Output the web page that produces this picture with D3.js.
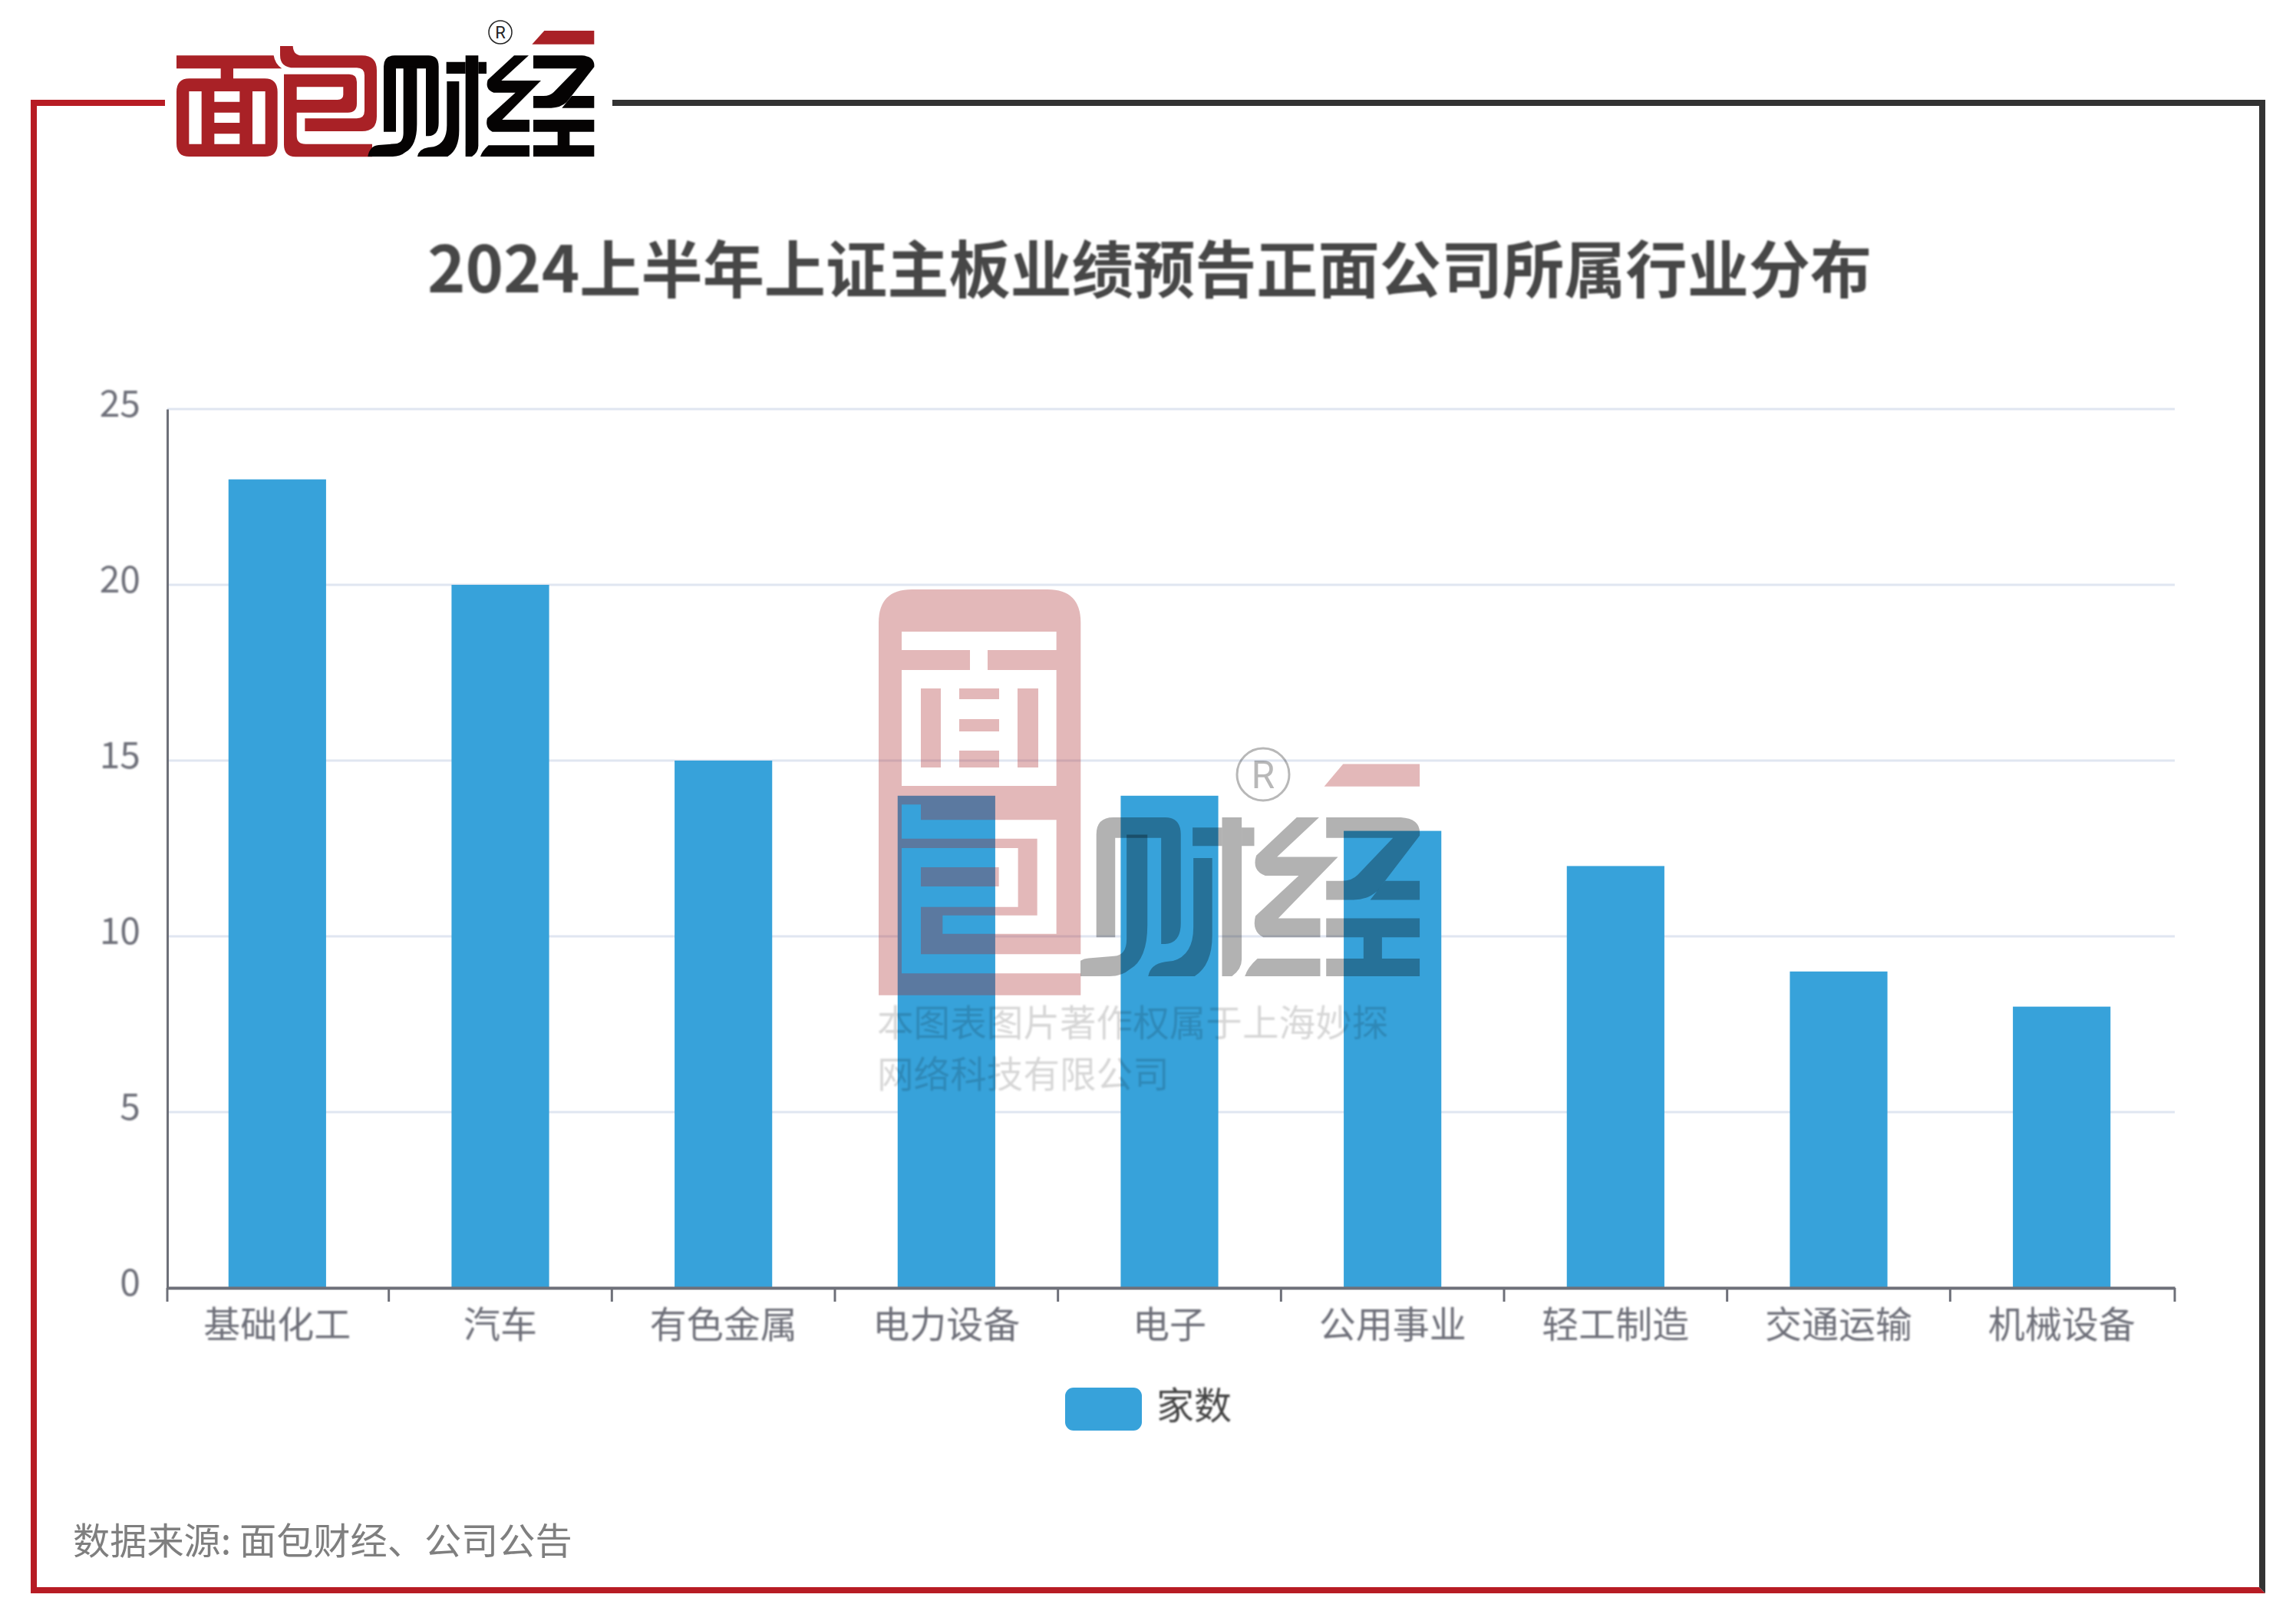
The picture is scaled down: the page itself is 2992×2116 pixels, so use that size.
<!DOCTYPE html>
<html><head><meta charset="utf-8">
<style>html,body{margin:0;padding:0;background:#fff}svg{display:block}text{font-family:"Noto Sans CJK SC","Noto Sans",sans-serif}</style>
<script src="https://cdn.jsdelivr.net/npm/d3@7"></script></head>
<body><script>
const categories = ["基础化工","汽车","有色金属","电力设备","电子","公用事业","轻工制造","交通运输","机械设备"];
const counts = [23,20,15,14,14,13,12,9,8];
const yTicks = [0,5,10,15,20,25];
const seriesName = "家数";
const titleNumber = "2024";
const titleText = "上半年上证主板业绩预告正面公司所属行业分布";
const sourceText = "数据来源: 面包财经、公司公告";
const watermarkLines = ["本图表图片著作权属于上海妙探","网络科技有限公司"];

const W=2992,H=2116;
const svg=d3.select("body").append("svg").attr("width",W).attr("height",H).attr("viewBox",`0 0 ${W} ${H}`);
svg.append("rect").attr("width",W).attr("height",H).attr("fill","#fff");
const defs=svg.append("defs");
defs.append("filter").attr("id","soft").attr("x","-5%").attr("y","-20%").attr("width","110%").attr("height","140%")
  .append("feGaussianBlur").attr("stdDeviation",1.1);
defs.append("clipPath").attr("id","wmClip").append("rect").attr("x",1408).attr("y",1000).attr("width",500).attr("height",320);

// frame
const RED="#B71C24",DARK="#333333";
svg.append("path").attr("fill",RED).attr("d","M40,130H215V138H48V2068H2944L2952,2076H40Z");
svg.append("path").attr("fill",DARK).attr("d","M798,130H2952V2076L2944,2068V138H798Z");

// scales
const x=d3.scaleBand().domain(categories).range([218,2834]).paddingInner(0.5625).paddingOuter(0.28125);
const y=d3.scaleLinear().domain([0,25]).range([1678,533]);
const AX="#6E7079",BAR="#37A2DA";

// grid
svg.append("g").selectAll("line").data(yTicks.filter(d=>d>0)).join("line")
  .attr("x1",218).attr("x2",2834).attr("y1",d=>y(d)).attr("y2",d=>y(d))
  .attr("stroke","#E0E6F1").attr("stroke-width",3);

// bars
svg.append("g").selectAll("rect").data(counts).join("rect")
  .attr("x",(d,i)=>x(categories[i])-2).attr("y",d=>y(d))
  .attr("width",x.bandwidth()).attr("height",d=>y(0)-y(d)).attr("fill",BAR);

// y axis
const yAxis=svg.append("g").attr("transform","translate(218,0)")
  .call(d3.axisLeft(y).tickValues(yTicks).tickSize(0).tickPadding(35));
yAxis.select(".domain").attr("stroke",AX).attr("stroke-width",3);
yAxis.selectAll("text").attr("font-size",48).attr("fill",AX).attr("dy",null)
  .attr("y",9).attr("filter","url(#soft)").style("font-family",'"Noto Sans CJK SC"');

// x axis
const xAxis=svg.append("g").attr("transform","translate(0,1678)")
  .call(d3.axisBottom(x).tickSize(0).tickPadding(0));
xAxis.select(".domain").attr("stroke",AX).attr("stroke-width",4);
xAxis.selectAll("text").attr("font-size",48).attr("fill",AX).attr("dy",null).attr("y",65)
  .attr("dx",-2).attr("filter","url(#soft)").style("font-family",'"Noto Sans CJK SC"');
const tickX=i=>x.range()[0]+i*x.step()-((i>0&&i<categories.length)?2:0);
svg.append("g").selectAll("line").data(d3.range(categories.length+1)).join("line")
  .attr("x1",tickX).attr("x2",tickX)
  .attr("y1",1678).attr("y2",1696).attr("stroke",AX).attr("stroke-width",3);

// title
const title=svg.append("text").attr("x",557).attr("y",381).attr("fill","#464646")
  .attr("font-weight",700).attr("filter","url(#soft)");
title.append("tspan").attr("font-size",84).text(titleNumber);
title.append("tspan").attr("font-size",80.2).text(titleText);

// legend
svg.append("rect").attr("x",1388).attr("y",1808).attr("width",100).attr("height",56).attr("rx",11).attr("fill",BAR);
svg.append("text").attr("x",1507).attr("y",1849).attr("font-size",49).attr("fill","#444").attr("filter","url(#soft)").text(seriesName);

// source
svg.append("text").attr("x",95).attr("y",2025).attr("font-size",48.2).attr("fill","#7f7f7f").text(sourceText);

// logo shapes
const MIAN="M15,127L395,127Q400,160 427,178L237,178L237,217L360,217Q410,217 410,270L410,470Q410,522 360,522L65,522Q15,522 15,470L15,270Q15,217 65,217L188,217L188,178L15,178Z M64,267H113V473H64Z M163,267H262V308H163Z M163,350H262V390H163Z M163,433H262V473H163Z M312,267H362V473H312Z";
const BAO_OUT="M0,15L50,15Q52,52 85,52L320,52Q378,52 378,110L378,290Q378,348 320,348L97,348L97,298L300,298Q330,298 330,268L330,130Q330,100 300,100L55,100Q0,100 0,50Z";
const BAO_IN="M15,125L270,125Q300,125 300,155L300,240Q300,275 265,275L65,275L65,365Q65,398 100,398L360,398L360,448L60,448Q15,448 15,400Z M65,175L247,175L247,205Q247,225 225,225L65,225Z";
const CAI=[
 "M15,425L15,170Q15,127 58,127L190,127Q230,127 230,170L230,390Q230,440 190,442L180,442L180,178L63,178L63,425Z",
 "M92,170L145,170L145,395Q145,480 100,505Q80,522 50,522L-47,522Q-40,480 -5,477L60,472Q92,470 92,430Z",
 "M262,228L310,228L310,420Q310,495 265,522L147,522Q152,492 190,486L210,484Q262,470 262,400Z",
 "M335,127H385V480Q385,505 360,522H335Z","M260,152H335V198H260Z M385,152H417V198H385Z"];
const JING=[
 "M525,127L582,127L475,225L630,225L478,378L585,378L585,425L440,425Q410,410 420,372L530,272L445,272Q410,260 422,222Z",
 "M393,522Q400,500 425,478L585,478L585,522Z",
 "M600,127L790,127Q842,130 838,172L730,310Q705,332 670,332L600,332L600,285L640,285Q665,285 680,270L770,178L600,178Z",
 "M750,285L838,285L838,332L712,332Z",
 "M600,378H838V425H742V478H838V522H600V478H695V425H600Z"];
const PARA="M595,83L643,30L838,30L838,83Z";
const LRED="#A92126",LBLK="#050303";

const logo=svg.append("g");
logo.append("path").attr("transform","translate(225,30) scale(0.3333)").attr("fill",LRED).attr("fill-rule","evenodd").attr("d",MIAN);
const bao=logo.append("g").attr("transform","translate(365,55) scale(0.3333)").attr("fill",LRED).attr("fill-rule","evenodd");
bao.append("path").attr("d",BAO_OUT); bao.append("path").attr("d",BAO_IN);
const blk=logo.append("g").attr("transform","translate(495,30) scale(0.3333)");
blk.selectAll("path.k").data(CAI.concat(JING)).join("path").attr("class","k").attr("fill",LBLK).attr("d",d=>d);
blk.append("path").attr("fill",LRED).attr("d",PARA);
logo.append("circle").attr("cx",652).attr("cy",42).attr("r",15).attr("fill","none").attr("stroke","#222").attr("stroke-width",1.5);
logo.append("text").attr("x",652).attr("y",50).attr("text-anchor","middle").attr("font-size",22).attr("fill","#222").style("font-family","Roboto").text("R");

// watermark (over the bars)
const wm=svg.append("g");
const PINK="M0,-566Q0,-696 130,-696L660,-696Q790,-696 790,-566L790,730L165,730L165,545L545,545L545,315L90,315L90,805L790,805L790,890L0,890Z "+
 "M90,145L165,145L165,205L695,205L695,650L250,650L250,578L620,578L620,278L90,278Z "+
 "M165,390L470,390L470,465L165,465Z "+
 "M90,-531L695,-531L695,-459L426,-459L426,-381L695,-381L695,72L90,72L90,-381L357,-381L357,-459L90,-459Z "+
 "M165,-309H243V0H165Z M543,-309H624V0H543Z M315,-309H471V-267H315Z M315,-189H471V-141H315Z M315,-66H471V0H315Z";
wm.append("path").attr("transform","translate(1145,1000) scale(0.3333)").attr("fill",LRED).attr("fill-opacity",0.32).attr("fill-rule","evenodd").attr("d",PINK);
const gray=wm.append("g").attr("clip-path","url(#wmClip)").append("g").attr("transform","translate(1421,998.5) scale(0.512,0.524)");
gray.selectAll("path").data(CAI.concat(JING)).join("path").attr("fill","#000").attr("fill-opacity",0.3).attr("d",d=>d);
wm.append("path").attr("transform","translate(1421,979) scale(0.512,0.55)").attr("fill",LRED).attr("fill-opacity",0.32).attr("d",PARA);
wm.append("circle").attr("cx",1646).attr("cy",1009).attr("r",34).attr("fill","none").attr("stroke","#000").attr("stroke-opacity",0.28).attr("stroke-width",3);
wm.append("text").attr("x",1646).attr("y",1027).attr("text-anchor","middle").attr("font-size",50).attr("fill","#000").attr("fill-opacity",0.28).style("font-family","Roboto").text("R");
wm.selectAll("text.l").data(watermarkLines).join("text").attr("class","l").attr("x",1143)
  .attr("y",(d,i)=>1350+i*67).attr("font-size",47.6).attr("fill","#000").attr("fill-opacity",0.16).attr("filter","url(#soft)").text(d=>d);
</script></body></html>
